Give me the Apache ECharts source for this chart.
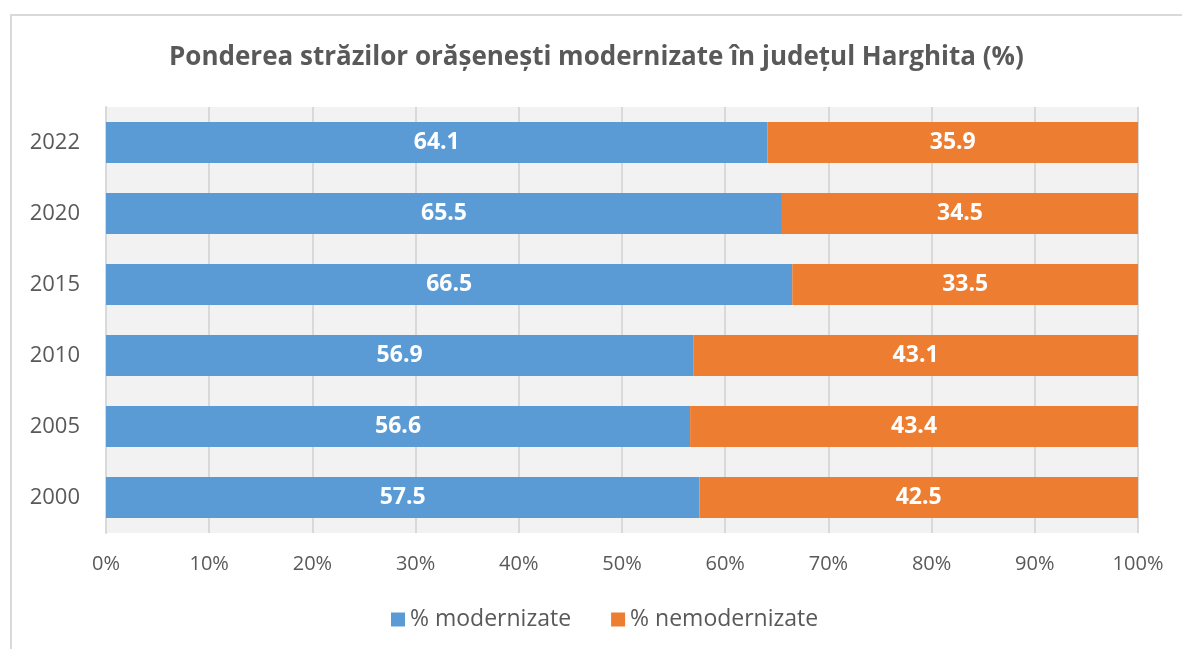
<!DOCTYPE html>
<html>
<head>
<meta charset="utf-8">
<script src="https://cdn.jsdelivr.net/npm/echarts@6/dist/echarts.min.js"></script>
<style>
  html, body { margin: 0; padding: 0; background: #fff; }
  #frame { position: absolute; left: 10px; top: 14px; width: 1190px; height: 660px; border: 2px solid #d9d9d9; box-sizing: border-box; }
  #chart { position: absolute; left: 0; top: 0; width: 1182px; height: 649px; }
</style>
</head>
<body>
<div id="frame"></div>
<div id="chart"></div>
<script>
// years, bottom to top
const years = ['2000', '2005', '2010', '2015', '2020', '2022'];
const modernizate = [57.5, 56.6, 56.9, 66.5, 65.5, 64.1];
const nemodernizate = [42.5, 43.4, 43.1, 33.5, 34.5, 35.9];

const font = '"Open Sans", "Noto Sans", sans-serif';
const chart = echarts.init(document.getElementById('chart'));

const labelStyle = {
  show: true,
  position: 'inside',
  color: '#fff',
  fontWeight: 'bold',
  fontSize: 23,
  fontFamily: font,
  formatter: (p) => p.value.toFixed(1),
};

chart.setOption({
  animation: false,
  title: {
    text: 'Ponderea străzilor orășenești modernizate în județul Harghita (%)',
    left: 164,
    top: 40,
    textStyle: { fontSize: 26, fontWeight: 'bold', color: '#595959', fontFamily: font },
  },
  grid: {
    left: 106, right: 44, top: 107, bottom: 116,
    show: true, backgroundColor: '#f2f2f2', borderWidth: 0,
  },
  legend: {
    bottom: 13,
    left: 386,
    itemWidth: 14,
    itemHeight: 14,
    itemGap: 40,
    icon: 'rect',
    textStyle: { fontSize: 23, color: '#595959', fontFamily: font },
    data: ['% modernizate', '% nemodernizate'],
  },
  xAxis: {
    type: 'value',
    min: 0, max: 100, interval: 10,
    axisLine: { show: false },
    axisTick: { show: false },
    axisLabel: { formatter: '{value}%', color: '#595959', fontSize: 20, fontFamily: font, margin: 21 },
    splitLine: { lineStyle: { color: '#d9d9d9', width: 2 } },
  },
  yAxis: {
    type: 'category',
    data: years,
    axisLine: { show: true, lineStyle: { color: '#d9d9d9', width: 2 } },
    axisTick: { show: false },
    axisLabel: { color: '#595959', fontSize: 22, fontFamily: font, margin: 26 },
  },
  series: [
    {
      name: '% modernizate',
      type: 'bar',
      stack: 'total',
      data: modernizate,
      barCategoryGap: '42%',
      itemStyle: { color: '#5b9bd5' },
      label: labelStyle,
    },
    {
      name: '% nemodernizate',
      type: 'bar',
      stack: 'total',
      data: nemodernizate,
      itemStyle: { color: '#ed7d31' },
      label: labelStyle,
    },
  ],
});
</script>
</body>
</html>
